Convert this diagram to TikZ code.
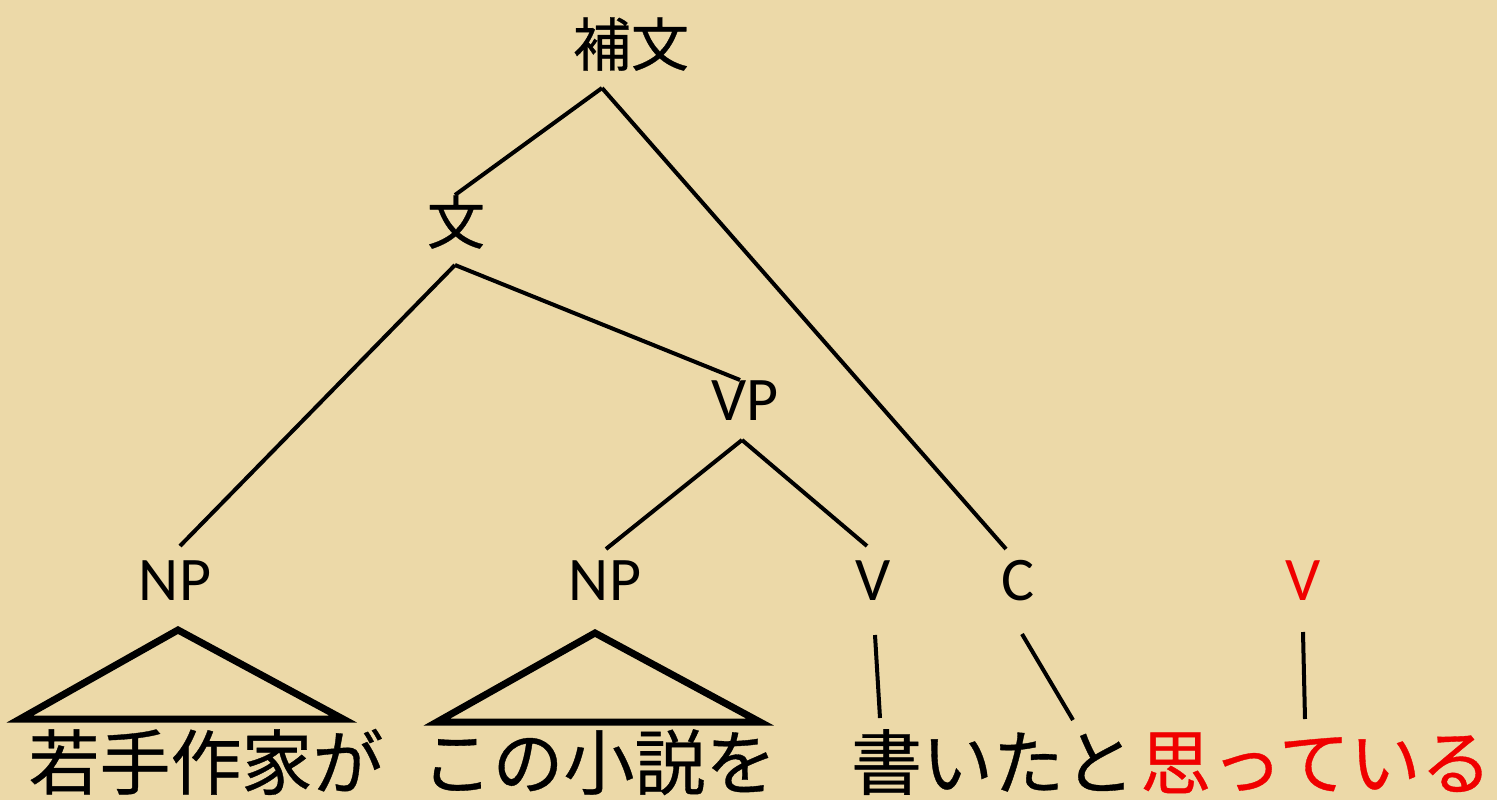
\documentclass[tikz,border=0pt]{standalone}
\usepackage{fontspec}
\setmainfont{Carlito}
\newfontfamily\jp{Noto Sans CJK JP}[FakeBold=0.5]
\definecolor{paper}{RGB}{236,217,168}
\definecolor{redv}{RGB}{240,0,0}
\begin{document}
\begin{tikzpicture}[x=1pt,y=-1pt,
  lab/.style={inner sep=0pt,anchor=base,font=\fontsize{62}{62}\selectfont},
  jlab/.style={inner sep=0pt,anchor=base,font=\jp\fontsize{58}{58}\selectfont},
  word/.style={inner sep=0pt,anchor=base,font=\jp\fontsize{71}{71}\selectfont},
  edge/.style={line width=4pt},
  tri/.style={line width=7pt,line join=miter}]
\fill[paper] (0,0) rectangle (1497,800);
\useasboundingbox (0,0) rectangle (1497,800);
% nodes
\node[jlab] (hobun) at (631,66) {補文};
\node[jlab] (bun) at (456,244) {文};
\node[lab] (vp) at (745,420) {VP};
\node[lab] (np1) at (175,600) {NP};
\node[lab] (np2) at (605,600) {NP};
\node[lab] (v1) at (873,600) {V};
\node[lab] (c1) at (1018,600) {C};
\node[lab,text=redv] (v2) at (1303,600) {V};
\node[word] (w1) at (206,789) {若手作家が};
\node[word] (w2) at (599,789) {この小説を};
\node[word] (w3) at (993,789) {書いたと};
\node[word,text=redv] (w4) at (1316,789) {思っている};
% attachment points
\coordinate (hobunB) at (602,88);
\coordinate (bunT) at (455,195);
\coordinate (bunB) at (455,265);
\coordinate (vpT) at (740,380);
\coordinate (vpB) at (742,440);
\coordinate (np1T) at (180,546);
\coordinate (np2T) at (606,549);
\coordinate (v1T) at (867,546);
\coordinate (c1T) at (1006,549);
\coordinate (v1B) at (875,635);
\coordinate (w3Ta) at (880,718);
\coordinate (c1B) at (1022,634);
\coordinate (w3Tb) at (1073,720);
\coordinate (v2B) at (1303,632);
\coordinate (w4T) at (1305,719);
% edges
\draw[edge] (hobunB) -- (bunT);
\draw[edge] (hobunB) -- (c1T);
\draw[edge] (bunB) -- (np1T);
\draw[edge] (bunB) -- (vpT);
\draw[edge] (vpB) -- (np2T);
\draw[edge] (vpB) -- (v1T);
\draw[edge] (v1B) -- (w3Ta);
\draw[edge] (c1B) -- (w3Tb);
\draw[edge] (v2B) -- (w4T);
% triangles
\coordinate (t1a) at (178,630);
\coordinate (t1l) at (20,719);
\coordinate (t1r) at (343,719);
\coordinate (t2a) at (595,633);
\coordinate (t2l) at (437,722);
\coordinate (t2r) at (760,722);
\draw[tri] (t1a) -- (t1l) -- (t1r) -- cycle;
\draw[tri] (t2a) -- (t2l) -- (t2r) -- cycle;
\end{tikzpicture}
\end{document}
